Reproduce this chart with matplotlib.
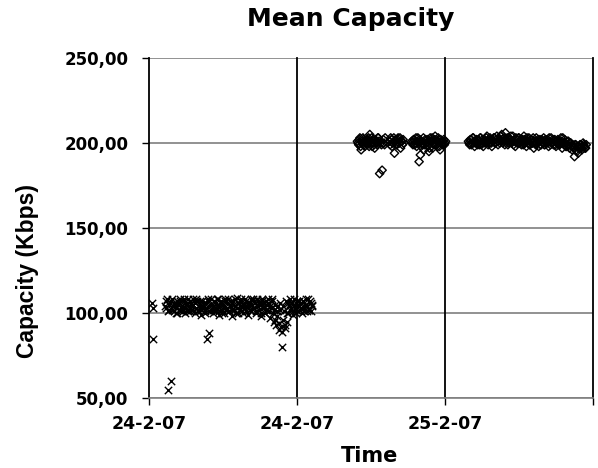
import numpy as np
import matplotlib.pyplot as plt

nan = np.nan

# hours after 24-2-07 00:00; two interleaved sample runs per segment (nan = no sample)
early_start, early_step = 0.25, 0.05
early_vals = [106, 85, 103]

low_start, low_step = 1.3, 0.1
low_vals = [104, 107, 55, 102, 106, 60, 108, 101, 105, 103,
            100, 106, 108, 101, 103, 107, 100, 105, 102, 108,
            101, 106, 104, 108, 100, 103, 107, 102, 105, 99,
            107, 103, 101, 106, 85, 108, 88, 102, 105, 100,
            107, 101, 104, 108, 99, 106, 102, 105, 100, 107,
            103, 108, 101, 105, 98, 107, 102, 104, 109, 100,
            106, 102, 108, 100, 105, 103, 107, 99, 104, 106,
            101, 108, 103, 106, 100, 107, 102, 105, 98, 108,
            104, 100, 107, 102, 106, 97, 103, 108, 95, 105,
            93, 101, 90, 106, 92, 80, 104, 91, 107, 95,
            100, 108, 103, 106, 99, 105, 102, 107, 101, 104,
            106, 100, 107, 103, 105, 101, 108, 102, 106, 104]

low2_start = 1.35
low2_vals = [103, 108, 101, 105, 107, 102, 104, 106, 100, 107,
             105, 102, 107, 104, 101, 108, 103, 106, 101, 104,
             107, 102, 105, 101, 106, 108, 101, 104, 107, 102,
             104, 106, 100, 103, 107, 101, 105, 108, 102, 104,
             102, 106, 108, 101, 104, 107, 100, 103, 108, 102,
             106, 101, 104, 107, 102, 105, 108, 100, 103, 106,
             104, 107, 101, 105, 108, 101, 104, 106, 102, 108,
             105, 103, 107, 101, 108, 104, 106, 100, 107, 103,
             106, 102, 105, 108, 101, 104, 107, 100, 102, 96,
             98, 104, 94, 102, 89, 96, 101, 93, 100, 106,
             104, 102, 106, 101, 108, 103, 100, 105, 107, 102,
             103, 107, 101, 105, 108, 104, 102, 107, 101, 105]

high1_start, high1_step = 16.9, 0.1
high1_vals = [201, 199, 203, 196, 200, 202, 198, 201, 199, 203,
              205, 200, 198, 202, 197, 201, 199, 203, 182, 200,
              184, 202, 199, nan, nan, nan, 201, 203, 198, 200,
              194, 202, 199, 203, 200, 197, 201, 202, nan, nan,
              nan, nan, nan, nan, 201, 199, 202, 200, 198, 203,
              189, 193, 201, 199, 196, 202, 200, 198, 195, 203,
              201, 197, 199, 204, 202, 198, 200, 196, 201, 199,
              202, 200]

high1b_start = 16.95
high1b_vals = [200, 202, 198, 201, 203, 199, 201, 200, 202, 198,
               201, 203, 200, 199, 202, 200, 203, 201, nan, 199,
               nan, 200, 203, nan, nan, nan, 199, 202, 200, 203,
               201, 199, 202, 200, 203, 201, 199, 200, nan, nan,
               nan, nan, nan, nan, 200, 202, 199, 203, 201, 200,
               202, 198, 200, 203, 199, 201, 202, 200, 197, 201,
               203, 200, 202, 199, 201, 203, 198, 202, 200, 201,
               199, 201]

high2_start, high2_step = 25.9, 0.1
high2_vals = [201, 199, 202, 200, 203, 198, 201, 200, 202, 199,
              203, 200, 198, 202, 201, 204, 199, 200, 202, 198,
              201, 203, 200, 204, 199, 202, 201, 205, 200, 203,
              206, 201, 199, 203, 202, 200, 204, 201, 198, 202,
              200, 203, 201, 199, 202, 204, 200, 198, 201, 203,
              199, 202, 200, 197, 201, 203, 200, 198, 202, 199,
              201, 203, 199, 200, 202, 198, 201, 203, 200, 199,
              202, 198, 200, 201, 199, 203, 197, 200, 202, 198,
              199, 201, 197, 200, 196, 198, 192, 199, 195, 194,
              197, 199, 196, 200, 198, 197]

high2b_start = 25.95
high2b_vals = [200, 202, 199, 203, 201, 200, 202, 199, 201, 203,
               199, 202, 201, 200, 203, 201, 202, 203, 200, 201,
               203, 200, 202, 201, 203, 200, 204, 202, 201, 199,
               202, 203, 200, 202, 204, 201, 199, 202, 203, 200,
               203, 200, 202, 201, 199, 202, 201, 203, 200, 199,
               202, 200, 203, 201, 199, 200, 202, 201, 199, 202,
               200, 199, 202, 201, 200, 203, 199, 200, 202, 201,
               199, 201, 202, 199, 200, 201, 203, 199, 200, 198,
               201, 199, 200, 198, 199, 197, 199, 196, 198, 197,
               199, 197, 198, 199, 197, 199]

x_ticks = [0, 12, 24, 36]
x_labels = ['24-2-07', '24-2-07', '25-2-07', '']
y_ticks = [50, 100, 150, 200, 250]
y_labels = ['50,00', '100,00', '150,00', '200,00', '250,00']


def times(start, step, vals):
    return start + step * np.arange(len(vals))


fig = plt.figure(figsize=(5.98, 4.68), dpi=100)
ax = fig.add_axes([149 / 598, 1 - 398 / 468, 444 / 598, 340 / 468])

cross_runs = [(early_start, early_step, early_vals),
              (low_start, low_step, low_vals),
              (low2_start, low_step, low2_vals)]
for st, sp, v in cross_runs:
    ax.scatter(times(st, sp, v), v, marker='x', s=28, c='black',
               linewidths=1.0, zorder=3)

diamond_runs = [(high1_start, high1_step, high1_vals),
                (high1b_start, high1_step, high1b_vals),
                (high2_start, high2_step, high2_vals),
                (high2b_start, high2_step, high2b_vals)]
for st, sp, v in diamond_runs:
    ax.scatter(times(st, sp, v), v, marker='D', s=18, facecolors='none',
               edgecolors='black', linewidths=1.0, zorder=3)

ax.set_xlim(0, 36)
ax.set_ylim(50, 250)
ax.set_xticks(x_ticks)
ax.set_xticklabels(x_labels)
ax.set_yticks(y_ticks)
ax.set_yticklabels(y_labels)

for yv in y_ticks:
    ax.axhline(yv, color='#7f7f7f', lw=1.2, zorder=1)
for xv in x_ticks[1:]:
    ax.axvline(xv, color='black', lw=1.3, zorder=1, clip_on=False)

for s in ['top', 'right']:
    ax.spines[s].set_visible(False)
ax.spines['left'].set_color('black')
ax.spines['left'].set_linewidth(1.3)
ax.spines['bottom'].set_color('#7f7f7f')
ax.spines['bottom'].set_linewidth(1.2)

ax.tick_params(axis='y', direction='out', length=5, width=1.0, pad=10,
               labelsize=12, colors='black')
ax.tick_params(axis='x', direction='out', length=5, width=1.0, pad=7,
               labelsize=12.5, colors='black')
for lab in ax.get_xticklabels() + ax.get_yticklabels():
    lab.set_fontweight('bold')
    lab.set_family('DejaVu Sans')

fig.text(351 / 598, 1 - 26 / 468, 'Mean Capacity', ha='center', va='baseline',
         fontsize=18, fontweight='bold', family='DejaVu Sans')
fig.text(370 / 598, 1 - 462 / 468, 'Time', ha='center', va='baseline',
         fontsize=15, fontweight='bold', family='DejaVu Sans')
fig.text(28 / 598, 1 - 271 / 468, 'Capacity (Kbps)', ha='center', va='center',
         rotation=90, fontsize=16.5, fontweight='bold',
         family=['Liberation Sans Narrow', 'Liberation Sans', 'DejaVu Sans'])

fig.savefig('out.png', dpi=100)
